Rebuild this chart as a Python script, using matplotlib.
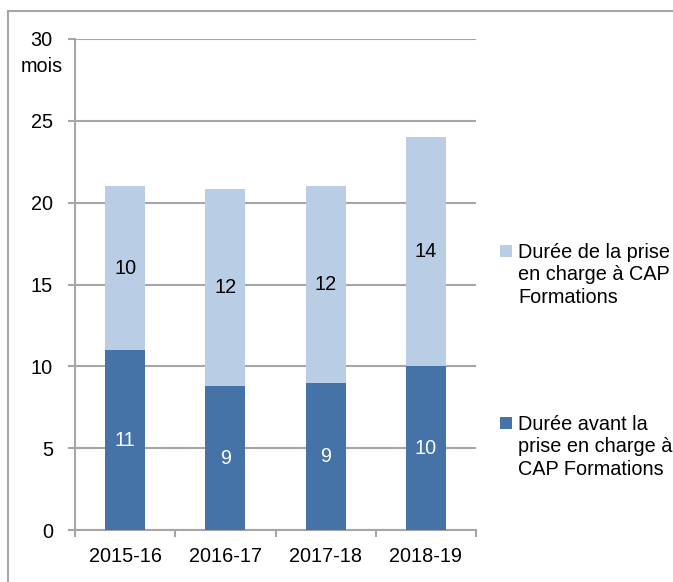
import matplotlib
matplotlib.use("Agg")
import matplotlib.pyplot as plt
from matplotlib.lines import Line2D
from matplotlib.patches import Rectangle

plt.rcParams['font.family'] = ['Liberation Sans', 'DejaVu Sans']

# Data
periods = ["2015-16", "2016-17", "2017-18", "2018-19"]
avant = [11, 8.8, 9, 10]          # Durée avant la prise en charge
pendant = [10, 12, 12, 14]        # Durée de la prise en charge
label_avant = "Durée avant la\nprise en charge à\nCAP Formations"
label_pendant = "Durée de la prise\nen charge à CAP\nFormations"
y_ticks = [0, 5, 10, 15, 20, 25, 30]
unit = "mois"

dark = "#4572A7"
light = "#B9CDE5"
grid_col = "#A6A6A6"
fs = 14.3

W, H = 673, 582
fig = plt.figure(figsize=(W / 100, H / 100), dpi=100)
fig.patch.set_facecolor("white")

def fx(px):
    return px / W

def fy(py):
    return 1 - py / H

ax = fig.add_axes([fx(75), fy(530.2), fx(476) - fx(75), fy(38.8) - fy(530.2)])

x = list(range(len(periods)))
ax.bar(x, avant, width=0.4, color=dark, zorder=3)
ax.bar(x, pendant, width=0.4, bottom=avant, color=light, zorder=3)

for xi, a, p in zip(x, avant, pendant):
    ax.text(xi, a / 2, f"{a:.0f}", ha="center", va="center", color="white",
            fontsize=fs, zorder=4)
    ax.text(xi, a + p / 2, f"{p:.0f}", ha="center", va="center", color="black",
            fontsize=fs, zorder=4)

ax.set_xlim(-0.5, len(periods) - 0.5)
ax.set_ylim(0, 30)
ax.set_yticks(y_ticks)
ax.set_yticklabels([str(v) for v in y_ticks], fontsize=fs)
ax.set_xticks(x)
ax.set_xticklabels(periods, fontsize=fs)
ax.set_xticks([i - 0.5 for i in range(len(periods) + 1)], minor=True)

ax.yaxis.grid(True, color=grid_col, linewidth=1.5, zorder=0)
ax.tick_params(axis="y", length=5, width=1.5, color=grid_col, pad=11)
ax.tick_params(axis="x", which="major", length=0, pad=12)
ax.tick_params(axis="x", which="minor", length=5, width=1.5, color=grid_col)

for side in ("top", "right"):
    ax.spines[side].set_visible(False)
for side in ("left", "bottom"):
    ax.spines[side].set_color(grid_col)
    ax.spines[side].set_linewidth(1.5)

# Unit label under the top tick
fig.text(fx(42), fy(67), unit, ha="center", va="center", fontsize=fs)

# Legend drawn beside the plot
legend_items = [(light, label_pendant, 245), (dark, label_avant, 417)]
for col, lab, top in legend_items:
    fig.patches.append(Rectangle((fx(500), fy(top + 12)), fx(12), fy(top) - fy(top + 12),
                                 transform=fig.transFigure, facecolor=col,
                                 edgecolor="none"))
    fig.text(fx(518), fy(top - 2), lab, ha="left", va="top", fontsize=fs,
             linespacing=1.22)

# Outer frame (left and top edges)
fig.lines.append(Line2D([fx(7.5), fx(7.5)], [fy(11), 0], transform=fig.transFigure,
                        color=grid_col, linewidth=1.5))
fig.lines.append(Line2D([fx(7.5), 1], [fy(11), fy(11)], transform=fig.transFigure,
                        color=grid_col, linewidth=1.5))

fig.savefig("out.png", dpi=100)
